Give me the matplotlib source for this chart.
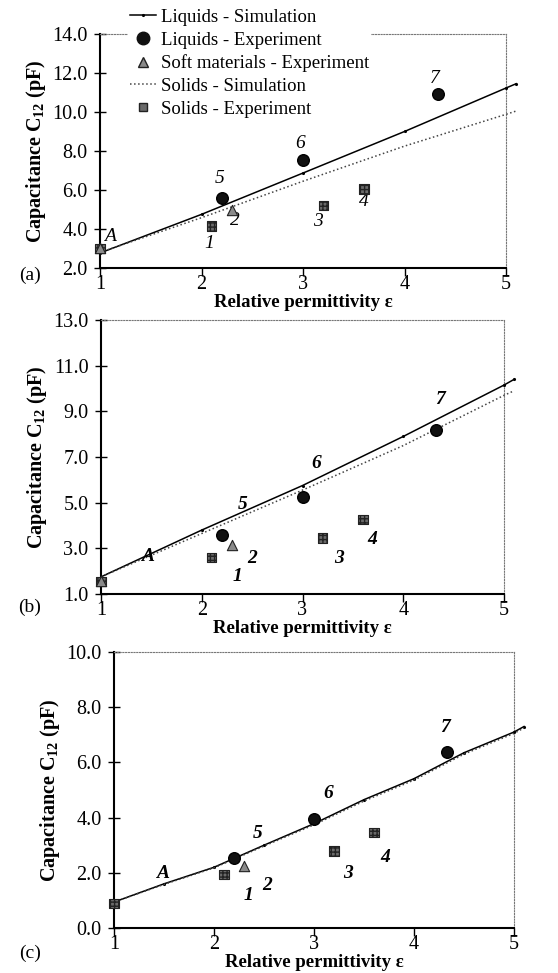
import numpy as np
import matplotlib
matplotlib.use("Agg")
import matplotlib.pyplot as plt
from matplotlib.lines import Line2D

plt.rcParams['font.family'] = ['Liberation Serif', 'DejaVu Serif']
plt.rcParams['mathtext.fontset'] = 'custom'
plt.rcParams['mathtext.rm'] = 'Liberation Serif'
plt.rcParams['mathtext.bf'] = 'Liberation Serif:bold'

# simulation curves
eps_sim_ab = [1, 2, 3, 4, 5, 5.1]
liq_sim_a = [2.77, 4.75, 6.87, 9.0, 11.23, 11.45]
sol_sim_a = [2.8, 4.58, 6.45, 8.25, 9.88, 10.05]
liq_sim_b = [1.75, 3.8, 5.75, 7.9, 10.15, 10.4]
sol_sim_b = [1.75, 3.65, 5.55, 7.5, 9.7, 9.9]
eps_sim_c = [1, 1.5, 2, 2.5, 3, 3.5, 4, 4.5, 5, 5.1]
liq_sim_c = [0.94, 1.6, 2.2, 3.0, 3.78, 4.65, 5.41, 6.35, 7.1, 7.3]
sol_sim_c = [0.94, 1.58, 2.18, 2.97, 3.74, 4.6, 5.36, 6.3, 7.05, 7.25]

# experiments
eps_liq = [2.2, 3.0, 4.33]
eps_soft = [2.3]
eps_sol = [2.1, 3.2, 3.6]
eps_air = [1.0]
liq_exp = {'a': [5.6, 7.55, 10.9], 'b': [3.6, 5.27, 8.2], 'c': [2.55, 3.94, 6.38]}
soft_exp = {'a': [4.95], 'b': [3.16], 'c': [2.23]}
sol_exp = {'a': [4.15, 5.2, 6.05], 'b': [2.6, 3.45, 4.25], 'c': [1.93, 2.79, 3.45]}
air_exp = {'a': [3.0], 'b': [1.55], 'c': [0.88]}

sample_names = ['A', '1', '2', '3', '4', '5', '6', '7']
label_xy = {
    'a': [(1.1, 3.6), (2.08, 3.25), (2.33, 4.45), (3.15, 4.4), (3.6, 5.4), (2.18, 6.6), (2.97, 8.4), (4.3, 11.7)],
    'b': [(1.46, 2.65), (2.35, 1.77), (2.5, 2.57), (3.36, 2.57), (3.69, 3.38), (2.41, 4.9), (3.14, 6.73), (4.37, 9.5)],
    'c': [(1.49, 1.97), (2.34, 1.18), (2.53, 1.55), (3.34, 1.97), (3.71, 2.57), (2.44, 3.42), (3.14, 4.87), (4.31, 7.28)],
}
ylims = {'a': (2, 14), 'b': (1, 13), 'c': (0, 10)}
sims = {
    'a': (eps_sim_ab, liq_sim_a, sol_sim_a),
    'b': (eps_sim_ab, liq_sim_b, sol_sim_b),
    'c': (eps_sim_c, liq_sim_c, sol_sim_c),
}

fig = plt.figure(figsize=(5.58, 9.73), dpi=100)
W, H = 558, 973
boxes = {
    'a': (100, 506, 34, 268),
    'b': (101, 504, 320, 594),
    'c': (114, 514, 652, 928),
}

sq_kw = dict(marker='s', s=45, facecolor='#6a6a6a', edgecolor='#222222', linewidths=0.8, hatch='++++', zorder=4)
tri_kw = dict(marker='^', s=55, facecolor='#8a8a8a', edgecolor='#222222', linewidths=0.8, zorder=5)
circ_kw = dict(marker='o', s=70, facecolor='#111111', edgecolor='#000000', zorder=5)

for key in ['a', 'b', 'c']:
    x0, x1, yt, yb = boxes[key]
    ax = fig.add_axes([x0 / W, 1 - yb / H, (x1 - x0) / W, (yb - yt) / H])
    xs, ls, ss = sims[key]
    ax.plot(xs, ls, '-', color='black', lw=1.1, marker='.', markersize=2.5, clip_on=False, zorder=3)
    ax.plot(xs, ss, ':', color='#444444', lw=1.1, clip_on=False, zorder=3)
    ax.scatter(eps_sol, sol_exp[key], clip_on=False, **sq_kw)
    ax.scatter(eps_air, air_exp[key], clip_on=False, **sq_kw)
    if key != 'c':
        ax.scatter(eps_air, air_exp[key], clip_on=False, **tri_kw)
    ax.scatter(eps_soft, soft_exp[key], clip_on=False, **tri_kw)
    ax.scatter(eps_liq, liq_exp[key], clip_on=False, **circ_kw)

    weight = 'normal' if key == 'a' else 'bold'
    for name, (lx, ly) in zip(sample_names, label_xy[key]):
        ax.text(lx, ly, name, fontsize=14, style='italic', weight=weight, ha='center', va='center')

    ax.set_xlim(1, 5)
    ax.set_ylim(*ylims[key])
    ax.set_xticks([1, 2, 3, 4, 5])
    lo, hi = ylims[key]
    ax.set_yticks(np.arange(lo, hi + 0.1, 2))
    ax.yaxis.set_major_formatter(matplotlib.ticker.FormatStrFormatter('%.1f'))
    ax.tick_params(axis='y', direction='inout', length=8, width=1.0, labelsize=14.5, pad=5)
    ax.tick_params(axis='x', direction='out', length=6, width=1.0, labelsize=14.5, pad=-1)
    for s in ['left', 'bottom']:
        ax.spines[s].set_linewidth(1.5)
    for s in ['top', 'right']:
        ax.spines[s].set_linestyle((0, (1, 1.5)))
        ax.spines[s].set_color('#777777')
        ax.spines[s].set_linewidth(0.8)
    ax.set_ylabel('Capacitance C$_{\\mathbf{12}}$ (pF)', fontsize=14.5, weight='bold', labelpad=3)
    ax.set_xlabel('Relative permittivity ε', fontsize=13.5, weight='bold', labelpad=0)
    ax.patch.set_alpha(0)

    lab_y = {'a': 275, 'b': 607, 'c': 953}[key]
    fig.text(30 / W, 1 - lab_y / H, '(' + key + ')', fontsize=14, ha='center', va='center')

    if key == 'a':
        handles = [
            Line2D([], [], color='black', lw=1.1, marker='.', markersize=2.5),
            Line2D([], [], ls='none', marker='o', markersize=9, color='#111111'),
            Line2D([], [], ls='none', marker='^', markersize=7, markerfacecolor='#8a8a8a', markeredgecolor='#222222'),
            Line2D([], [], color='#444444', lw=1.1, ls=':'),
            Line2D([], [], ls='none', marker='s', markersize=6, markerfacecolor='#6a6a6a', markeredgecolor='#222222'),
        ]
        names = ['Liquids - Simulation', 'Liquids - Experiment', 'Soft materials - Experiment',
                 'Solids - Simulation', 'Solids - Experiment']
        leg = fig.legend(handles, names, loc='upper left', bbox_to_anchor=(128 / W, 1 - 7 / H),
                         bbox_transform=fig.transFigure, fontsize=13.5, frameon=True, framealpha=1,
                         edgecolor='none', facecolor='white', handlelength=1.4, handletextpad=0.25,
                         labelspacing=0.3, borderpad=0.1, borderaxespad=0)
        leg.set_zorder(10)

fig.savefig('out.png', dpi=100)
